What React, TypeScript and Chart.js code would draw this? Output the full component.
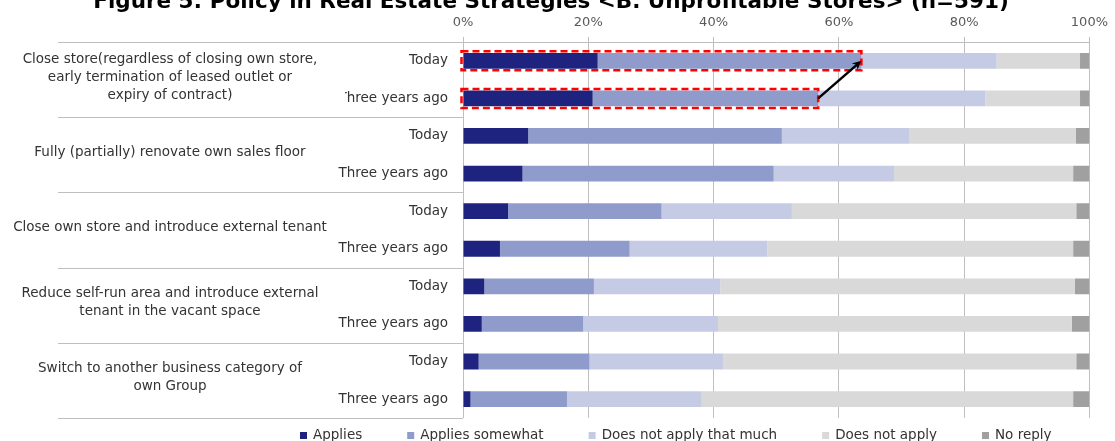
import React, { useEffect, useRef } from "react";
import { Chart, registerables } from "chart.js";

Chart.register(...registerables);

const title = "Figure 5: Policy in Real Estate Strategies <B. Unprofitable Stores> (n=591)";
const rowLabels = [
  "Today", "Three years ago",
  "Today", "Three years ago",
  "Today", "Three years ago",
  "Today", "Three years ago",
  "Today", "Three years ago",
];
const groupLabels: string[][] = [
  ["Close store(regardless of closing own store,", "early termination of leased outlet or", "expiry of contract)"],
  ["Fully (partially) renovate own sales floor"],
  ["Close own store and introduce external tenant"],
  ["Reduce self-run area and introduce external", "tenant in the vacant space"],
  ["Switch to another business category of", "own Group"],
];
const seriesNames = ["Applies", "Applies somewhat", "Does not apply that much", "Does not apply", "No reply"];
const applies = [21.5, 20.7, 10.4, 9.5, 7.2, 5.9, 3.4, 3.0, 2.5, 1.2];
const appliesSomewhat = [42.1, 36.0, 40.5, 40.1, 24.5, 20.7, 17.5, 16.2, 17.7, 15.4];
const notApplyMuch = [21.6, 26.7, 20.4, 19.2, 20.8, 22.0, 20.2, 21.5, 21.3, 21.5];
const notApply = [13.3, 15.1, 26.5, 28.6, 45.4, 48.8, 56.6, 56.5, 56.4, 59.3];
const noReply = [1.5, 1.5, 2.2, 2.6, 2.1, 2.6, 2.3, 2.8, 2.1, 2.6];
const seriesColors = ["#1f2380", "#8f9bcb", "#c6cbe5", "#d9d9d9", "#a0a0a0"];
const xTickStep = 20;
const highlightRows = [0, 1];

const FONT = '"DejaVu Sans", Verdana, sans-serif';

const overlayPlugin = {
  id: "overlay",
  afterDraw(chart: any) {
    const { ctx, scales } = chart;
    const x = scales.x;
    const y = scales.y;
    ctx.save();

    // Title (partly cut at the top, as in the reference)
    ctx.font = `bold 21.5px ${FONT}`;
    ctx.fillStyle = "#000";
    ctx.textAlign = "center";
    ctx.textBaseline = "alphabetic";
    ctx.fillText(title, 551, 8);

    // Group separators on the left
    const step = y.getPixelForValue(1) - y.getPixelForValue(0);
    ctx.strokeStyle = "#bfbfbf";
    ctx.lineWidth = 1;
    for (let g = 0; g <= groupLabels.length; g++) {
      const yy = Math.round(y.getPixelForValue(g * 2) - step / 2) + 0.5;
      ctx.beginPath();
      ctx.moveTo(58, yy);
      ctx.lineTo(x.left, yy);
      ctx.stroke();
    }

    // Group labels
    ctx.font = `13.5px ${FONT}`;
    ctx.fillStyle = "#333";
    ctx.textAlign = "center";
    ctx.textBaseline = "middle";
    const lh = 18;
    groupLabels.forEach((lines, g) => {
      const cy = (y.getPixelForValue(g * 2) + y.getPixelForValue(g * 2 + 1)) / 2 - 2.5;
      lines.forEach((ln, i) => {
        ctx.fillText(ln, 170, cy + (i - (lines.length - 1) / 2) * lh);
      });
    });

    // White cover over the "T" of the first "Three years ago" (text-box artifact)
    {
      ctx.font = `13.5px ${FONT}`;
      const w = ctx.measureText(rowLabels[1]).width;
      const right = x.left - 15;
      const tw = ctx.measureText("T").width;
      const yc = y.getPixelForValue(1);
      ctx.fillStyle = "#fff";
      ctx.fillRect(right - w - 3, yc - 10, tw * 0.8 + 3, 20);
    }

    // Red dashed highlight boxes
    ctx.strokeStyle = "#ff0000";
    ctx.lineWidth = 2.5;
    ctx.setLineDash([7, 4]);
    const ends: { x: number; y: number }[] = [];
    highlightRows.forEach((r) => {
      const x0 = x.getPixelForValue(0) - 1.5;
      const x1 = x.getPixelForValue(applies[r] + appliesSomewhat[r]);
      const yc = y.getPixelForValue(r);
      ctx.strokeRect(x0, yc - 9.5, x1 - x0, 19);
      ends.push({ x: x1, y: yc });
    });
    ctx.setLineDash([]);

    // Arrow from "three years ago" box to "today" box
    const from = ends[1];
    const to = ends[0];
    ctx.strokeStyle = "#000";
    ctx.fillStyle = "#000";
    ctx.lineWidth = 2.5;
    const ang = Math.atan2(to.y - from.y, to.x - from.x);
    const hl = 10;
    ctx.beginPath();
    ctx.moveTo(from.x, from.y);
    ctx.lineTo(to.x - Math.cos(ang) * 5, to.y - Math.sin(ang) * 5);
    ctx.stroke();
    ctx.beginPath();
    ctx.moveTo(to.x, to.y);
    ctx.lineTo(to.x - hl * Math.cos(ang - 0.45), to.y - hl * Math.sin(ang - 0.45));
    ctx.lineTo(to.x - hl * 0.6 * Math.cos(ang), to.y - hl * 0.6 * Math.sin(ang));
    ctx.lineTo(to.x - hl * Math.cos(ang + 0.45), to.y - hl * Math.sin(ang + 0.45));
    ctx.closePath();
    ctx.fill();

    // Legend
    ctx.font = `13.5px ${FONT}`;
    ctx.textAlign = "left";
    ctx.textBaseline = "middle";
    let lx = 300;
    const ly = 435;
    chart.data.datasets.forEach((ds: any) => {
      ctx.fillStyle = ds.backgroundColor;
      ctx.fillRect(lx, ly - 3, 7, 7);
      ctx.fillStyle = "#333";
      ctx.fillText(ds.label, lx + 13, ly);
      lx += 13 + ctx.measureText(ds.label).width + 45;
    });

    ctx.restore();
  },
};

export default function App() {
  const ref = useRef<HTMLCanvasElement | null>(null);
  useEffect(() => {
    if (!ref.current) return;
    const series = [applies, appliesSomewhat, notApplyMuch, notApply, noReply];
    const chart = new Chart(ref.current, {
      type: "bar",
      data: {
        labels: rowLabels,
        datasets: series.map((d, i) => ({
          label: seriesNames[i],
          data: d,
          backgroundColor: seriesColors[i],
          borderWidth: 0,
          barPercentage: 0.42,
          categoryPercentage: 1,
        })),
      },
      options: {
        indexAxis: "y",
        responsive: false,
        animation: false,
        layout: { padding: { left: 0, right: 25, top: 0, bottom: 22 } },
        plugins: {
          legend: { display: false },
          tooltip: { enabled: false },
          title: { display: false },
        },
        scales: {
          x: {
            position: "top",
            stacked: true,
            min: 0,
            max: 100,
            ticks: {
              stepSize: xTickStep,
              callback: (v: any) => v + "%",
              color: "#595959",
              font: { family: FONT, size: 13 },
              padding: 7,
            },
            grid: { color: "#bfbfbf", tickLength: 5, drawTicks: true },
            border: { color: "#bfbfbf" },
            afterFit: (s: any) => {
              s.height = 42;
            },
          },
          y: {
            stacked: true,
            ticks: {
              color: "#333",
              font: { family: FONT, size: 13.5 },
              padding: 15,
              autoSkip: false,
            },
            grid: { display: false, drawTicks: false },
            border: { display: true, color: "#bfbfbf" },
            afterFit: (s: any) => {
              s.width = 463;
            },
          },
        },
      },
      plugins: [overlayPlugin],
    });
    return () => chart.destroy();
  }, []);
  return (
    <div style={{ position: "fixed", left: 0, top: 0, width: 1115, height: 441, background: "#fff" }}>
      <canvas ref={ref} width={1115} height={441} style={{ display: "block" }} />
    </div>
  );
}
